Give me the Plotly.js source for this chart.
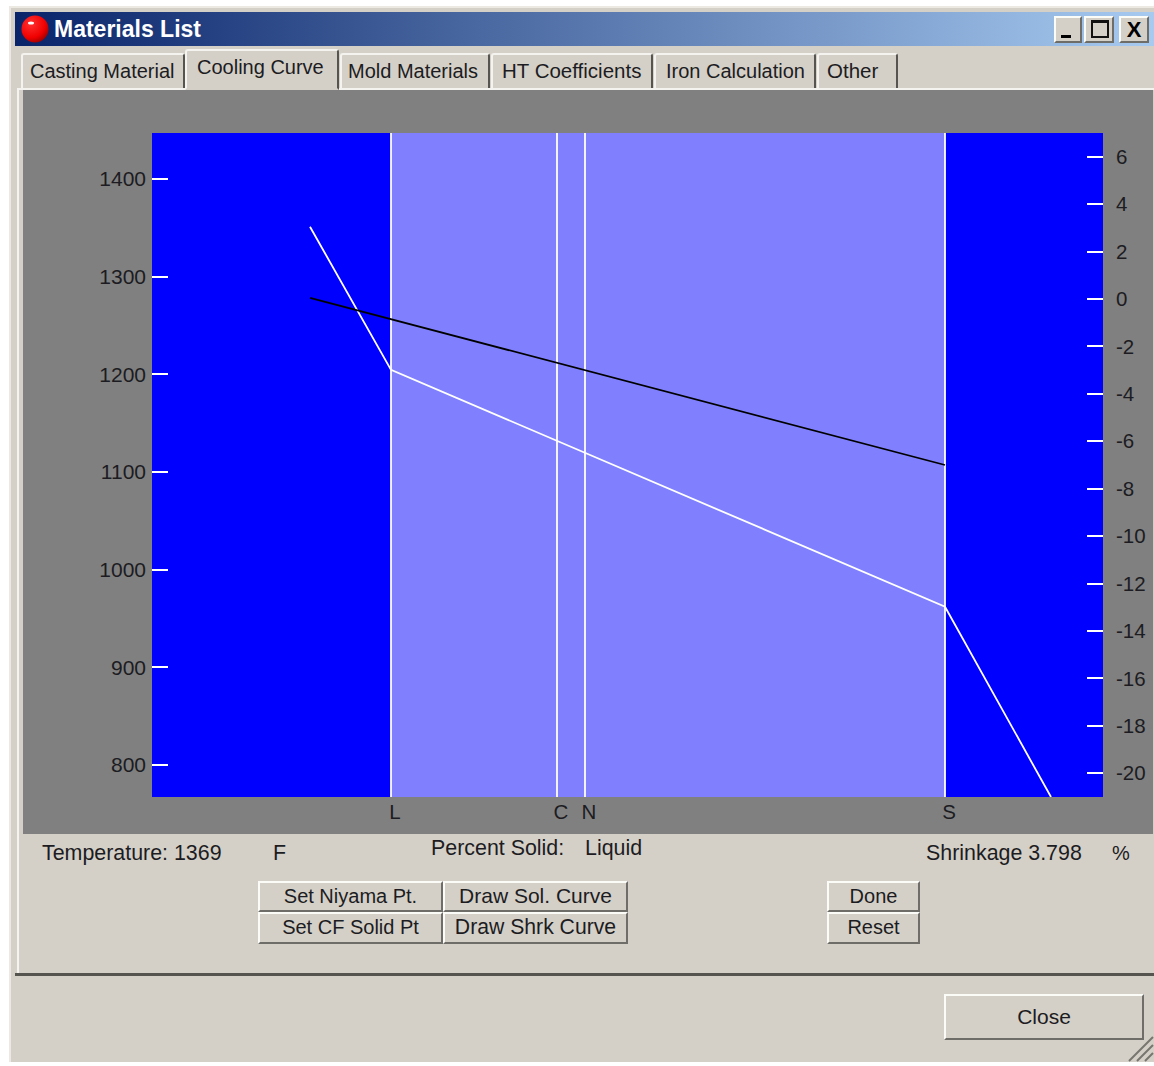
<!DOCTYPE html>
<html><head><meta charset="utf-8">
<script src="https://cdn.plot.ly/plotly-3.0.1.min.js"></script>
<style>
html,body{margin:0;padding:0;background:#fff;width:1154px;height:1066px;overflow:hidden}
#win{position:absolute;left:9px;top:6px;width:1145px;height:1056px;background:#d4d0c8;border-left:2px solid #ece9e2;border-top:2px solid #ece9e2;box-sizing:border-box}
.a{position:absolute}
.t{position:absolute;white-space:nowrap;font-family:"Liberation Sans",sans-serif;font-size:20px;color:#1c1c22;line-height:24px}
.l{font-size:21.4px}
.tab{position:absolute;background:#d4d0c8;border-top:2px solid #f4f3ef;border-left:2px solid #f4f3ef;border-right:2px solid #55544f;box-sizing:border-box;border-radius:3px 3px 0 0}
.btn{position:absolute;background:#d4d0c8;box-sizing:border-box;border-top:2px solid #fbfbf8;border-left:2px solid #fbfbf8;border-right:2px solid #6e6d68;border-bottom:2px solid #6e6d68;text-align:center;white-space:nowrap;font-family:"Liberation Sans",sans-serif;font-size:20px;color:#1c1c22;line-height:26px}
#plot{position:absolute;left:23px;top:90px;width:1130px;height:744px}
</style></head><body>
<div id="win"></div>
<div class="a" style="left:15px;top:12px;width:1139px;height:34px;background:linear-gradient(90deg,#0a246a,#a6caf0)"></div>
<svg class="a" style="left:20px;top:14px" width="30" height="30"><defs><radialGradient id="r" cx="35%" cy="30%" r="75%"><stop offset="0" stop-color="#ff3030"/><stop offset=".7" stop-color="#f00000"/><stop offset="1" stop-color="#a00000"/></radialGradient></defs><circle cx="15" cy="15" r="13.5" fill="url(#r)"/><ellipse cx="11" cy="9" rx="3" ry="1.5" fill="#fff"/></svg>
<div class="t" style="left:54px;top:17px;color:#fff;font-weight:bold;font-size:23px">Materials List</div>
<div class="btn" style="left:1054px;top:16px;width:28px;height:27px"><div class="a" style="left:5px;top:17px;width:10px;height:3px;background:#000"></div></div>
<div class="btn" style="left:1084px;top:16px;width:30px;height:27px"><div class="a" style="left:5px;top:2px;width:18px;height:18px;border:2px solid #111;border-top-width:3px;box-sizing:border-box"></div></div>
<div class="btn" style="left:1119px;top:16px;width:30px;height:27px;font-weight:bold;font-size:22px;line-height:23px;color:#000">X</div>

<div class="a" style="left:17px;top:88px;width:1137px;height:2px;background:#f4f3ef"></div>
<div class="a" style="left:17px;top:88px;width:2px;height:886px;background:#f4f3ef"></div>
<div class="tab" style="left:21px;top:53px;width:164px;height:35px"></div>
<div class="tab" style="left:185px;top:49px;width:154px;height:41px;border-bottom:2px solid #d4d0c8;z-index:2"></div>
<div class="tab" style="left:340px;top:53px;width:150px;height:35px"></div>
<div class="tab" style="left:491px;top:53px;width:162px;height:35px"></div>
<div class="tab" style="left:654px;top:53px;width:162px;height:35px"></div>
<div class="tab" style="left:817px;top:53px;width:81px;height:35px"></div>
<div class="t" style="left:30px;top:59px">Casting Material</div>
<div class="t" style="left:197px;top:55px;z-index:3">Cooling Curve</div>
<div class="t" style="left:348px;top:59px">Mold Materials</div>
<div class="t" style="left:502px;top:59px;font-size:20.5px">HT Coefficients</div>
<div class="t" style="left:666px;top:59px">Iron Calculation</div>
<div class="t" style="left:827px;top:59px;font-size:20.5px">Other</div>

<div id="plot"></div>

<div class="t l" style="left:42px;top:841px">Temperature: 1369</div>
<div class="t l" style="left:273px;top:841px">F</div>
<div class="t l" style="left:431px;top:836px">Percent Solid:</div>
<div class="t l" style="left:585px;top:836px">Liquid</div>
<div class="t l" style="left:926px;top:841px">Shrinkage 3.798</div>
<div class="t" style="left:1112px;top:841px">%</div>

<div class="btn" style="left:258px;top:881px;width:185px;height:31px">Set Niyama Pt.</div>
<div class="btn" style="left:258px;top:912px;width:185px;height:32px">Set CF Solid Pt</div>
<div class="btn" style="left:443px;top:881px;width:185px;height:31px;font-size:21px">Draw Sol. Curve</div>
<div class="btn" style="left:443px;top:912px;width:185px;height:32px;font-size:21.2px">Draw Shrk Curve</div>
<div class="btn" style="left:827px;top:881px;width:93px;height:31px">Done</div>
<div class="btn" style="left:827px;top:912px;width:93px;height:32px">Reset</div>
<div class="btn" style="left:944px;top:994px;width:200px;height:46px;font-size:21px;line-height:41px">Close</div>

<div class="a" style="left:15px;top:973px;width:1139px;height:3px;background:#55544f"></div>
<svg class="a" style="left:1124px;top:1034px" width="30" height="30"><g stroke="#77766f" stroke-width="2"><path d="M5 27L29 3M13 27L29 11M21 27L29 19"/></g></svg>

<script>
var rangeX = [0, 951];
var rangeTemp = [767.2, 1447];
var rangeShrink = [-21, 7];
var markerNames = ['L', 'C', 'N', 'S'];
var markerX = [239, 405, 433, 793];
var coolingX = [158, 239, 793, 899];
var coolingTemp = [1351, 1204.5, 962, 767.2];
var shrinkX = [158, 793];
var shrinkPct = [0.05, -7];
var tempTicks = [800, 900, 1000, 1100, 1200, 1300, 1400];
var shrinkTicks = [6, 4, 2, 0, -2, -4, -6, -8, -10, -12, -14, -16, -18, -20];
var font = {family: '"Liberation Sans",sans-serif', size: 20.5, color: '#1c1c22'};

var traces = markerX.map(function (x, i) {
  return {x: [x, x], y: rangeTemp, mode: 'lines', name: markerNames[i], line: {color: '#fff', width: 1.8}, showlegend: false, hoverinfo: 'skip'};
});
traces.push({x: coolingX, y: coolingTemp, mode: 'lines', name: 'Cooling', line: {color: '#fff', width: 1.8}, showlegend: false});
traces.push({x: shrinkX, y: shrinkPct, yaxis: 'y2', mode: 'lines', name: 'Shrinkage', line: {color: '#000', width: 1.8}, showlegend: false});

Plotly.newPlot('plot', traces, {
  width: 1130, height: 744,
  margin: {l: 129, r: 50, t: 43, b: 37, pad: 0},
  paper_bgcolor: '#808080', plot_bgcolor: '#0000ff', font: font, showlegend: false,
  xaxis: {range: rangeX, tickmode: 'array', tickvals: markerX, ticktext: markerNames, ticks: '', showgrid: false, zeroline: false, showline: false, tickfont: font, ticklabelshift: 4, ticklabelstandoff: 0},
  yaxis: {range: rangeTemp, tickmode: 'array', tickvals: tempTicks, ticktext: tempTicks.map(String), ticks: 'inside', ticklen: 16, tickwidth: 2, tickcolor: '#fff', showgrid: false, zeroline: false, showline: false, tickfont: {family: font.family, size: 21, color: font.color}, ticklabelstandoff: 5},
  yaxis2: {range: rangeShrink, overlaying: 'y', side: 'right', tickmode: 'array', tickvals: shrinkTicks, ticktext: shrinkTicks.map(String), ticks: 'inside', ticklen: 16, tickwidth: 2, tickcolor: '#fff', showgrid: false, zeroline: false, showline: false, tickfont: font, ticklabelstandoff: 12},
  shapes: [{type: 'rect', layer: 'below', xref: 'x', yref: 'paper', x0: markerX[0], x1: markerX[3], y0: 0, y1: 1, fillcolor: '#8080ff', line: {width: 0}}]
}, {staticPlot: true, displayModeBar: false});
</script>
</body></html>
